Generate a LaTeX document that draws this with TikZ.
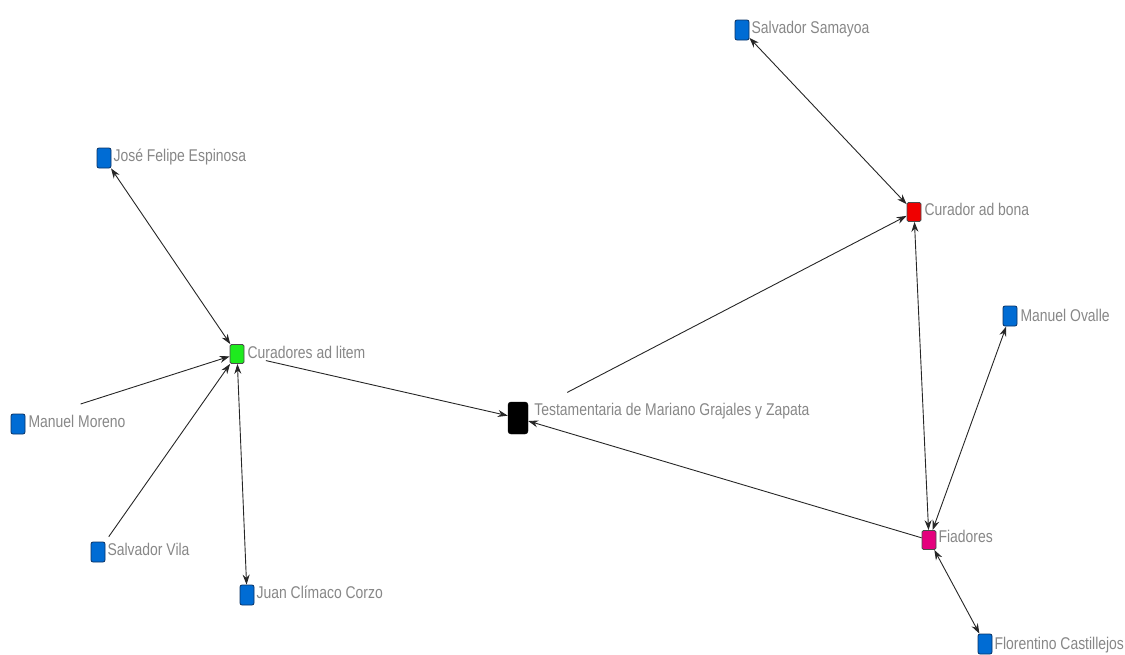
\documentclass[tikz,border=0pt]{standalone}
\usepackage{fontspec}
\setmainfont[FakeStretch=0.82]{Liberation Sans}
\usetikzlibrary{arrows.meta}
\definecolor{nblue}{RGB}{0,108,212}
\definecolor{nblueb}{RGB}{10,50,100}
\definecolor{ngreen}{RGB}{30,235,30}
\definecolor{nred}{RGB}{240,0,0}
\definecolor{npink}{RGB}{228,0,125}
\definecolor{lblgray}{RGB}{135,135,135}
\begin{document}
\begin{tikzpicture}[x=1pt,y=-1pt,
  person/.style={draw=nblueb, fill=nblue, rounded corners=2pt, minimum width=14pt, minimum height=20pt, inner sep=0pt, line width=0.8pt},
  role/.style={draw=black!70, rounded corners=1.5pt, minimum width=14pt, minimum height=19pt, inner sep=0pt, line width=0.8pt},
  center/.style={draw=black, fill=black, rounded corners=3pt, minimum width=20pt, minimum height=32pt, inner sep=0pt},
  lbl/.style={anchor=base west, text=lblgray, font=\fontsize{17}{20}\selectfont, inner sep=0pt},
  edge/.style={draw=black!85, line width=0.9pt},
  one/.style={edge, -{Stealth[length=10pt,width=7pt]}},
  two/.style={edge, {Stealth[length=10pt,width=7pt]}-{Stealth[length=10pt,width=7pt]}}]
\useasboundingbox (0,0) rectangle (1125,654);
% nodes
\node[person] (jose) at (104,158) {};
\node[person] (samayoa) at (742,30) {};
\node[role, fill=nred] (bona) at (914,212) {};
\node[role, fill=ngreen] (litem) at (237,354) {};
\node[person] (moreno) at (18,424) {};
\node[center] (test) at (518,418) {};
\node[person] (ovalle) at (1010,316) {};
\node[person] (vila) at (98,552) {};
\node[person] (juan) at (247,595) {};
\node[role, fill=npink] (fiad) at (929,540) {};
\node[person] (flor) at (985,644) {};
% labels
\node[lbl] (ljose) at ([xshift=2pt,yshift=-3pt]jose.east) {José Felipe Espinosa};
\node[lbl] (lsamayoa) at ([xshift=2pt,yshift=-3pt]samayoa.east) {Salvador Samayoa};
\node[lbl] (lbona) at ([xshift=3pt,yshift=-3pt]bona.east) {Curador ad bona};
\node[lbl] (llitem) at ([xshift=3pt,yshift=-4pt]litem.east) {Curadores ad litem};
\node[lbl] (lmoreno) at ([xshift=3pt,yshift=-3pt]moreno.east) {Manuel Moreno};
\node[lbl] (ltest) at ([xshift=6pt,yshift=3pt]test.east) {Testamentaria de Mariano Grajales y Zapata};
\node[lbl] (lovalle) at ([xshift=3pt,yshift=-5pt]ovalle.east) {Manuel Ovalle};
\node[lbl] (lvila) at ([xshift=2pt,yshift=-3pt]vila.east) {Salvador Vila};
\node[lbl] (ljuan) at ([xshift=2pt,yshift=-3pt]juan.east) {Juan Clímaco Corzo};
\node[lbl] (lfiad) at ([xshift=2pt,yshift=-2pt]fiad.east) {Fiadores};
\node[lbl] (lflor) at ([xshift=2pt,yshift=-5pt]flor.east) {Florentino Castillejos};
% edges
\draw[two] (jose) -- (litem);
\draw[one, shorten <=58pt] (moreno) -- (litem);
\draw[one, shorten <=6pt] (vila) -- (litem);
\draw[two] (litem) -- (juan);
\draw[one, shorten <=22pt] (litem) -- (test);
\draw[one, shorten <=44pt] (test) -- (bona);
\draw[two] (samayoa) -- (bona);
\draw[two] (bona) -- (fiad);
\draw[two] (ovalle) -- (fiad);
\draw[one] (fiad) -- (test);
\draw[two] (fiad) -- (flor);
\end{tikzpicture}
\end{document}
